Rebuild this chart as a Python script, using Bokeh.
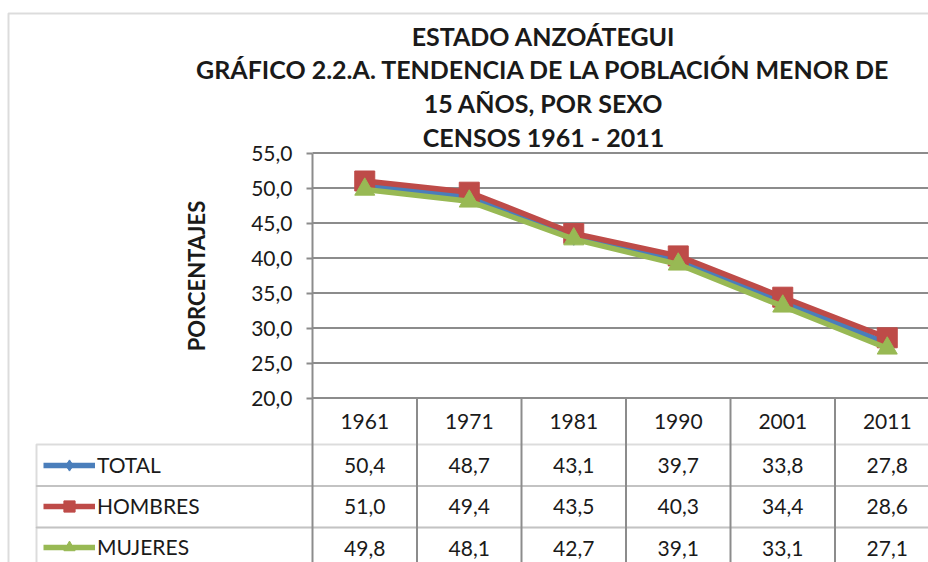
from bokeh.plotting import figure
from bokeh.models import (Range1d, LinearAxis, FixedTicker, CustomJSTickFormatter, Label,
                          BoxAnnotation, Legend, LegendItem, ColumnDataSource)
from bokeh.core.properties import value
from bokeh.embed import file_html
from bokeh.resources import INLINE

# ---------------- data ----------------
years = ["1961", "1971", "1981", "1990", "2001", "2011"]
total = [50.4, 48.7, 43.1, 39.7, 33.8, 27.8]
hombres = [51.0, 49.4, 43.5, 40.3, 34.4, 28.6]
mujeres = [49.8, 48.1, 42.7, 39.1, 33.1, 27.1]
series_names = ["TOTAL", "HOMBRES", "MUJERES"]
y_ticks = [20, 25, 30, 35, 40, 45, 50, 55]
title_lines = ["ESTADO ANZOÁTEGUI",
               "GRÁFICO 2.2.A. TENDENCIA DE LA POBLACIÓN MENOR DE",
               "15 AÑOS, POR SEXO",
               "CENSOS 1961 - 2011"]
y_title = "PORCENTAJES"

# ---------------- layout / style ----------------
W, H = 928, 562
X0 = 312          # canvas x of the plot-area left edge
Y20 = 397.5       # canvas y of the lowest axis value
COL_W = 104.5     # px per category column
PX = 7.0          # px per y unit
Y_MIN, Y_MAX = y_ticks[0], y_ticks[-1]
FONT = "Lato"
GRAY = "#8c8c8c"
TXT = "#1a1a1a"
colors = ["#4A7EBB", "#BE4B48", "#98B954"]
markers = ["diamond", "square", "triangle"]
msizes = [18, 20, 20]
row_centers = [23.25, 67.25, 108.75, 150]   # px below the lowest gridline
row_bounds = [46.5, 88, 129.5, 171]
title_centers = [35, 68, 102, 136]          # canvas px
TITLE_CX = 543


def cx_to_x(cx):
    return (cx - X0) / COL_W


def cy_to_y(cy):
    return Y_MIN + (Y20 - cy) / PX


p = figure(width=W, height=H, output_backend="svg", toolbar_location=None,
           x_range=Range1d(cx_to_x(0), cx_to_x(W)), y_range=Range1d(cy_to_y(H), cy_to_y(0)),
           min_border_left=0, min_border_top=0, min_border_right=0, min_border_bottom=0,
           x_axis_location=None, y_axis_location=None)
p.outline_line_color = None
p.background_fill_color = "white"
p.border_fill_color = "white"
p.xgrid.visible = False
p.ygrid.visible = False

x_end = p.x_range.end
y_bottom = p.y_range.start

# outer chart border
p.add_layout(BoxAnnotation(left=cx_to_x(8), right=x_end + 5, top=cy_to_y(13), bottom=y_bottom - 5,
                           fill_alpha=0, line_color=GRAY, line_width=2, level="underlay"))

# horizontal gridlines (plot area only)
p.segment(x0=[0] * len(y_ticks), y0=y_ticks, x1=[x_end + 1] * len(y_ticks), y1=y_ticks,
          line_color=GRAY, line_width=2)

# table: vertical lines below the plot area
bounds = list(range(0, len(years) + 1))
p.segment(x0=bounds, y0=[Y_MIN] * len(bounds), x1=bounds, y1=[y_bottom - 1] * len(bounds),
          line_color=GRAY, line_width=2)

# table: legend-column rows (also give the row separators)
for i in range(3):
    p.add_layout(BoxAnnotation(left=cx_to_x(36), right=x_end + 5,
                               top=cy_to_y(Y20 + row_bounds[i]), bottom=cy_to_y(Y20 + row_bounds[i + 1]),
                               fill_alpha=0, line_color=GRAY, line_width=2, level="underlay"))

yaxis = LinearAxis(ticker=FixedTicker(ticks=y_ticks), fixed_location=0, bounds=(Y_MIN, Y_MAX),
                   formatter=CustomJSTickFormatter(code="return tick.toFixed(1).replace('.', ',');"))
yaxis.axis_label = y_title
yaxis.axis_label_text_font = FONT
yaxis.axis_label_text_font_style = "bold"
yaxis.axis_label_text_font_size = "22px"
yaxis.axis_label_text_color = TXT
yaxis.axis_label_standoff = 38
yaxis.major_label_text_font = FONT
yaxis.major_label_text_font_size = "21px"
yaxis.major_label_text_color = TXT
yaxis.major_label_standoff = 14
yaxis.major_tick_out = 6
yaxis.major_tick_in = 0
yaxis.minor_tick_out = 0
yaxis.minor_tick_in = 0
yaxis.axis_line_color = GRAY
yaxis.axis_line_width = 2
yaxis.major_tick_line_color = GRAY
yaxis.major_tick_line_width = 2
p.add_layout(yaxis, "left")

x_pos = [i + 0.5 for i in range(len(years))]


def fmt(v):
    return f"{v:.1f}".replace(".", ",")


# header row (years)
hsrc = ColumnDataSource(dict(x=x_pos, t=years))
p.text(x="x", y=Y_MIN, text="t", source=hsrc, y_offset=row_centers[0],
       text_font=value(FONT), text_font_size="21px", text_color=TXT,
       text_align="center", text_baseline="middle")

# series
items = []
for k, (name, vals) in enumerate(zip(series_names, [total, hombres, mujeres])):
    src = ColumnDataSource(dict(x=x_pos, y=vals, t=[fmt(v) for v in vals]))
    lr = p.line("x", "y", source=src, line_color=colors[k], line_width=5.5)
    sr = p.scatter("x", "y", source=src, marker=markers[k], size=msizes[k],
                   fill_color=colors[k], line_color=colors[k])
    items.append(LegendItem(label=name, renderers=[lr, sr]))
    p.text(x="x", y=Y_MIN, text="t", source=src, y_offset=row_centers[k + 1],
           text_font=value(FONT), text_font_size="21px", text_color=TXT,
           text_align="center", text_baseline="middle")

legend = Legend(items=items, location=(43, 1.25), orientation="vertical",
                glyph_width=52, glyph_height=28, label_height=28, spacing=13,
                label_standoff=2, padding=0, margin=0, border_line_color=None,
                background_fill_alpha=0, label_text_font=FONT, label_text_font_size="21px",
                label_text_color=TXT)
p.add_layout(legend)

for line, cy in zip(title_lines, title_centers):
    p.add_layout(Label(x=cx_to_x(TITLE_CX), y=cy_to_y(cy), text=line,
                       text_font=FONT, text_font_style="bold", text_font_size="25px",
                       text_color=TXT, text_align="center", text_baseline="middle"))

open("out.html", "w").write(file_html(p, INLINE))
